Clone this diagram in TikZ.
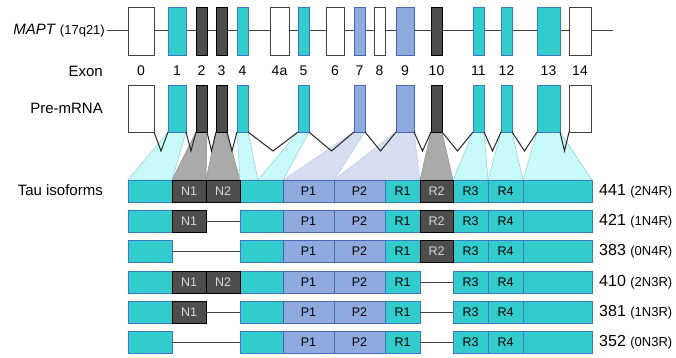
\documentclass[tikz,border=0pt]{standalone}
\usepackage{fontspec}
\setmainfont{Liberation Sans}
\usetikzlibrary{calc}
\definecolor{cy}{HTML}{33CCCC}
\definecolor{cyb}{HTML}{3D78C8}
\definecolor{dk}{HTML}{4D4D4D}
\definecolor{lv}{HTML}{8EAADF}
\definecolor{lvb}{HTML}{4565B5}
\definecolor{lcy}{HTML}{C8FAFA}
\definecolor{lgr}{HTML}{AAAAAA}
\definecolor{llv}{HTML}{D5DEF0}
\definecolor{edgeb}{HTML}{8CCFE0}
\tikzset{
 bx/.style={draw, line width=0.9pt, inner sep=0pt, outer sep=0pt, anchor=north west, font=\fontsize{12.5}{14}\selectfont},
 wht/.style={bx, fill=white, draw=black!75},
 cyn/.style={bx, fill=cy, draw=cyb},
 drk/.style={bx, fill=dk, draw=black, text=black!15},
 lav/.style={bx, fill=lv, draw=lvb},
 lab/.style={font=\fontsize{15}{17}\selectfont, inner sep=0pt},
 num/.style={font=\fontsize{14}{16}\selectfont, inner sep=0pt},
 tc/.style={fill=lcy, draw=edgeb, line width=0.5pt},
 tg/.style={fill=lgr, draw=black!45, line width=0.5pt},
 tl/.style={fill=llv, draw=lvb!35, line width=0.5pt},
 vline/.style={draw=black!85, line width=1pt},
 gline/.style={draw=black!75, line width=1pt},
 rlab/.style={anchor=west, inner sep=0pt}
}
\newcommand\ebox[6]{\node[#1, minimum width={(#4-#3)*1pt}, minimum height={(#6-#5)*1pt}] (#2) at (#3,#5) {};}
\newcommand\ib[5]{\node[#1, minimum width={(#4-#3)*1pt}, minimum height=22pt] (#2) at (#3,\rt) {#5};}
\newcommand\core[1]{%
 \ib{cyn}{#1c1}{128}{172}{}%
 \ib{cyn}{#1c2}{240}{283}{}%
 \ib{lav}{#1P1}{283}{334}{P1}%
 \ib{lav}{#1P2}{334}{385}{P2}%
 \ib{cyn}{#1R1}{385}{420}{R1}%
 \ib{cyn}{#1R3}{453}{488}{R3}%
 \ib{cyn}{#1R4}{488}{523}{R4}%
 \ib{cyn}{#1c3}{523}{592}{}}
\newcommand\splice[2]{\draw[vline] (#1.south east) -- ($(#1.south east)!0.5!(#2.south west)+(0,19)$) -- (#2.south west);}
\newcommand\trap[4]{\filldraw[#1] (#2.south west) -- (#2.south east) -- (#4) -- (#3) -- cycle;}
\newcommand\rl[3]{\node[rlab] (#1) at (599,\rt+11) {\fontsize{16}{18}\selectfont #2 {\fontsize{13}{15}\selectfont #3}};}
\begin{document}
\begin{tikzpicture}[x=1pt,y=-1pt]
\useasboundingbox[fill=white] (0,0) rectangle (676,358);
% ---- gene row
\coordinate (L0) at (107,31);
\coordinate (L1) at (613,31);
\draw[gline] (L0) -- (L1);
\ebox{wht}{g0}{128}{154}{7}{55}
\ebox{cyn}{g1}{168}{186}{7}{55}
\ebox{drk}{g2}{196}{207}{7}{55}
\ebox{drk}{g3}{216}{227}{7}{55}
\ebox{cyn}{g4}{237}{248}{7}{55}
\ebox{wht}{g4a}{270}{289}{7}{55}
\ebox{cyn}{g5}{298}{309}{7}{55}
\ebox{wht}{g6}{326}{344}{7}{55}
\ebox{lav}{g7}{354}{365}{7}{55}
\ebox{wht}{g8}{374}{385}{7}{55}
\ebox{lav}{g9}{396}{414}{7}{55}
\ebox{drk}{g10}{431}{442}{7}{55}
\ebox{cyn}{g11}{473}{484}{7}{55}
\ebox{cyn}{g12}{501}{512}{7}{55}
\ebox{cyn}{g13}{537}{560}{7}{55}
\ebox{wht}{g14}{569}{591}{7}{55}
\node[lab, anchor=east] (lmapt) at (105,31) {\textit{MAPT} {\fontsize{13}{15}\selectfont (17q21)}};
% ---- exon numbers
\node[lab, anchor=east] (lexon) at (103,71) {Exon};
\foreach \n/\t in {0/0,1/1,2/2,3/3,4/4,4a/4a,5/5,6/6,7/7,8/8,9/9,10/10,11/11,12/12,13/13,14/14}
  \node[num] (x\n) at ($(g\n.south)+(0,16)$) {\t};
% ---- isoform rows
\def\rt{180}\core{a}
\ib{drk}{aN1}{172}{206}{N1}\ib{drk}{aN2}{206}{240}{N2}\ib{drk}{aR2}{420}{453}{R2}
\rl{la}{441}{(2N4R)}
% ---- trapezoids (drawn under pre-mRNA)
\ebox{wht}{p0}{128}{154}{85}{132}
\ebox{cyn}{p1}{168}{186}{85}{132}
\ebox{drk}{p2}{196}{207}{85}{132}
\ebox{drk}{p3}{216}{227}{85}{132}
\ebox{cyn}{p4}{237}{248}{85}{132}
\ebox{cyn}{p5}{298}{309}{85}{132}
\ebox{lav}{p7}{354}{365}{85}{132}
\ebox{lav}{p9}{396}{414}{85}{132}
\ebox{drk}{p10}{431}{442}{85}{132}
\ebox{cyn}{p11}{473}{484}{85}{132}
\ebox{cyn}{p12}{501}{512}{85}{132}
\ebox{cyn}{p13}{537}{560}{85}{132}
\ebox{wht}{p14}{569}{591}{85}{132}
\coordinate (s45) at ($(ac2.north west)!0.42!(ac2.north east)$);
\begin{scope}[on background layer/.style={}]
\trap{tc}{p1}{ac1.north west}{ac1.north east}
\trap{tg}{p2}{aN1.north west}{aN1.north east}
\trap{tg}{p3}{aN2.north west}{aN2.north east}
\trap{tc}{p4}{ac2.north west}{s45}
\trap{tc}{p5}{s45}{ac2.north east}
\trap{tl}{p7}{aP1.north west}{aP1.north east}
\trap{tl}{p9}{aP2.north west}{aR1.north east}
\trap{tg}{p10}{aR2.north west}{aR2.north east}
\trap{tc}{p11}{aR3.north west}{aR3.north east}
\trap{tc}{p12}{aR4.north west}{aR4.north east}
\trap{tc}{p13}{ac3.north west}{ac3.north east}
\end{scope}
% redraw pre-mRNA boxes and first row on top
\ebox{wht}{p0}{128}{154}{85}{132}
\ebox{cyn}{p1}{168}{186}{85}{132}
\ebox{drk}{p2}{196}{207}{85}{132}
\ebox{drk}{p3}{216}{227}{85}{132}
\ebox{cyn}{p4}{237}{248}{85}{132}
\ebox{cyn}{p5}{298}{309}{85}{132}
\ebox{lav}{p7}{354}{365}{85}{132}
\ebox{lav}{p9}{396}{414}{85}{132}
\ebox{drk}{p10}{431}{442}{85}{132}
\ebox{cyn}{p11}{473}{484}{85}{132}
\ebox{cyn}{p12}{501}{512}{85}{132}
\ebox{cyn}{p13}{537}{560}{85}{132}
\ebox{wht}{p14}{569}{591}{85}{132}
\node[lab, anchor=east] (lpre) at (103,108) {Pre-mRNA};
\splice{p0}{p1}\splice{p1}{p2}\splice{p2}{p3}\splice{p3}{p4}\splice{p4}{p5}
\splice{p5}{p7}\splice{p7}{p9}\splice{p9}{p10}\splice{p10}{p11}\splice{p11}{p12}
\splice{p12}{p13}\splice{p13}{p14}
\def\rt{180}\core{a}
\ib{drk}{aN1}{172}{206}{N1}\ib{drk}{aN2}{206}{240}{N2}\ib{drk}{aR2}{420}{453}{R2}
\node[lab, anchor=east] (ltau) at (103,190) {Tau isoforms};
% row 2
\def\rt{210}\core{b}
\ib{drk}{bN1}{172}{206}{N1}\ib{drk}{bR2}{420}{453}{R2}
\draw[gline] (bN1.east) -- (bc2.west);
\rl{lb}{421}{(1N4R)}
% row 3
\def\rt{240}\core{c}
\ib{drk}{cR2}{420}{453}{R2}
\draw[gline] (cc1.east) -- (cc2.west);
\rl{lc}{383}{(0N4R)}
% row 4
\def\rt{271}\core{d}
\ib{drk}{dN1}{172}{206}{N1}\ib{drk}{dN2}{206}{240}{N2}
\draw[gline] (dR1.east) -- (dR3.west);
\rl{ld}{410}{(2N3R)}
% row 5
\def\rt{301}\core{e}
\ib{drk}{eN1}{172}{206}{N1}
\draw[gline] (eN1.east) -- (ec2.west);
\draw[gline] (eR1.east) -- (eR3.west);
\rl{le}{381}{(1N3R)}
% row 6
\def\rt{331}\core{f}
\draw[gline] (fc1.east) -- (fc2.west);
\draw[gline] (fR1.east) -- (fR3.west);
\rl{lf}{352}{(0N3R)}
\end{tikzpicture}
\end{document}
